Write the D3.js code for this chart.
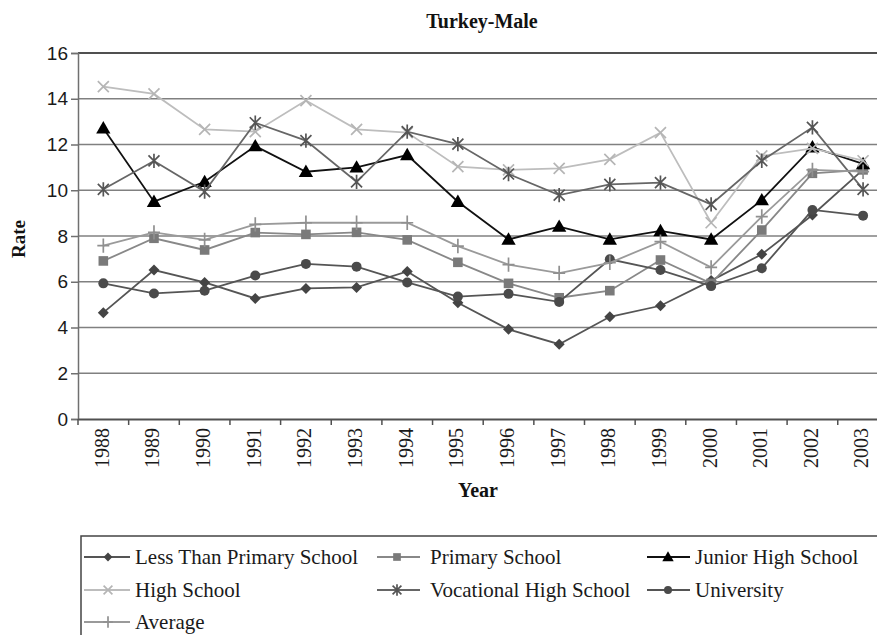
<!DOCTYPE html>
<html><head><meta charset="utf-8">
<script src="https://cdn.jsdelivr.net/npm/d3@7"></script>
<style>body{margin:0;background:#fff}svg{display:block}</style>
</head><body>
<svg id="c" width="877" height="635"></svg>
<script>
const years = ["1988","1989","1990","1991","1992","1993","1994","1995","1996","1997","1998","1999","2000","2001","2002","2003"];
const lessThanPrimary = [4.65,6.51,5.97,5.27,5.71,5.75,6.45,5.08,3.92,3.27,4.47,4.95,6.05,7.20,8.92,10.9];
const primarySchool   = [6.91,7.90,7.39,8.15,8.07,8.16,7.83,6.85,5.93,5.30,5.61,6.95,5.93,8.26,10.74,10.89];
const juniorHigh      = [12.71,9.50,10.37,11.93,10.81,11.00,11.54,9.50,7.85,8.41,7.85,8.22,7.85,9.57,11.88,11.15];
const highSchool      = [14.53,14.21,12.66,12.56,13.92,12.66,12.52,11.03,10.89,10.96,11.35,12.52,8.58,11.50,11.83,11.29];
const vocationalHigh  = [10.04,11.28,9.94,12.95,12.17,10.37,12.56,12.02,10.71,9.79,10.26,10.33,9.38,11.29,12.75,10.04];
const university      = [5.93,5.49,5.61,6.27,6.78,6.66,5.97,5.35,5.47,5.12,6.98,6.51,5.81,6.59,9.14,8.89];
const average         = [7.58,8.16,7.83,8.51,8.58,8.58,8.58,7.56,6.75,6.38,6.83,7.75,6.63,8.85,10.89,10.81];
const yTicks = [0,2,4,6,8,10,12,14,16];
const seriesNames = ["Less Than Primary School","Primary School","Junior High School","High School","Vocational High School","University","Average"];

const series = [
  {name:seriesNames[0], values:lessThanPrimary, color:"#555", mcolor:"#444", marker:"diamond"},
  {name:seriesNames[1], values:primarySchool,   color:"#888", mcolor:"#7a7a7a", marker:"square"},
  {name:seriesNames[2], values:juniorHigh,      color:"#111", mcolor:"#000", marker:"triangle"},
  {name:seriesNames[3], values:highSchool,      color:"#bdbdbd", mcolor:"#b5b5b5", marker:"x"},
  {name:seriesNames[4], values:vocationalHigh,  color:"#666", mcolor:"#555", marker:"star"},
  {name:seriesNames[5], values:university,      color:"#555", mcolor:"#4a4a4a", marker:"circle"},
  {name:seriesNames[6], values:average,         color:"#9a9a9a", mcolor:"#909090", marker:"plus"}
];

const svg = d3.select("#c");
const plotLeft = 78, plotTop = 53, plotBottom = 419;
const x = d3.scaleBand().domain(years).range([plotLeft, plotLeft + 16*50.65]);
const y = d3.scaleLinear().domain([0,16]).range([plotBottom, plotTop]);

// gridlines
svg.append("g").selectAll("line").data(yTicks.filter(d=>d>0)).join("line")
  .attr("x1", plotLeft).attr("x2", 877).attr("y1", d=>y(d)).attr("y2", d=>y(d))
  .attr("stroke", d=> d===16 ? "#505050" : "#808080").attr("stroke-width", d=> d===16 ? 2 : 1.5);

// y axis
const yAxis = svg.append("g").attr("transform",`translate(${plotLeft},0)`)
  .call(d3.axisLeft(y).tickValues(yTicks).tickSize(7).tickPadding(3));
yAxis.select(".domain").attr("stroke","#707070").attr("stroke-width",1.5);
yAxis.selectAll(".tick line").attr("stroke","#707070").attr("stroke-width",1.5);
yAxis.selectAll(".tick text").attr("font-family","'Liberation Sans', Arial, sans-serif")
  .attr("font-size","19px").attr("fill","#1a1a1a");

// x axis
const xAxis = svg.append("g").attr("transform",`translate(0,${plotBottom})`)
  .call(d3.axisBottom(x).tickSize(0).tickPadding(0));
xAxis.select(".domain").attr("stroke","#505050").attr("stroke-width",2);
xAxis.selectAll(".tick text").attr("font-family","'Liberation Serif', 'Times New Roman', serif")
  .attr("font-size","20px").attr("fill","#1a1a1a")
  .attr("transform","rotate(-90)").attr("text-anchor","end")
  .attr("x",-9).attr("y",-1).attr("dy","0.32em").attr("dx",0);
// tick marks at band boundaries
svg.append("g").selectAll("line").data(years).join("line")
  .attr("x1", d=>x(d)).attr("x2", d=>x(d)).attr("y1", plotBottom).attr("y2", plotBottom+6)
  .attr("stroke","#505050").attr("stroke-width",1.5);

const cx = d => x(d) + x.bandwidth()/2;

function markerPath(type, s) {
  switch(type) {
    case "diamond": return `M0,${-s}L${s},0L0,${s}L${-s},0Z`;
    case "square": return `M${-s},${-s}H${s}V${s}H${-s}Z`;
    case "triangle": return `M0,${-s*1.1}L${s*1.1},${s*0.8}L${-s*1.1},${s*0.8}Z`;
    case "x": return `M${-s},${-s}L${s},${s}M${-s},${s}L${s},${-s}`;
    case "star": return `M${-s},${-s}L${s},${s}M${-s},${s}L${s},${-s}M0,${-s*1.3}V${s*1.3}`;
    case "plus": return `M0,${-s*1.2}V${s*1.2}M${-s},0H${s}`;
  }
}
function drawMarker(g, type, color, scale) {
  const sizes = {diamond:5.5, square:4.8, triangle:6.5, x:5.5, star:5.5, plus:6, circle:5};
  const s = sizes[type]*scale;
  if (type === "circle") {
    g.append("circle").attr("r", s).attr("fill", color);
  } else if (type === "x" || type === "star" || type === "plus") {
    g.append("path").attr("d", markerPath(type, s)).attr("fill","none").attr("stroke", color).attr("stroke-width",1.7);
  } else {
    g.append("path").attr("d", markerPath(type, s)).attr("fill", color);
  }
}

const line = d3.line().x((d,i)=>cx(years[i])).y(d=>y(d));
series.forEach(sr => {
  const g = svg.append("g");
  g.append("path").datum(sr.values).attr("d", line).attr("fill","none")
    .attr("stroke", sr.color).attr("stroke-width",1.8);
  sr.values.forEach((v,i) => {
    const mg = g.append("g").attr("transform",`translate(${cx(years[i])},${y(v)})`);
    drawMarker(mg, sr.marker, sr.mcolor, 1);
  });
});

// titles
svg.append("text").attr("x",482).attr("y",28).attr("text-anchor","middle")
  .attr("font-family","'Liberation Serif', 'Times New Roman', serif").attr("font-weight","bold")
  .attr("font-size","20px").attr("fill","#111").text("Turkey-Male");
svg.append("text").attr("transform","translate(25,239) rotate(-90)").attr("text-anchor","middle")
  .attr("font-family","'Liberation Serif', 'Times New Roman', serif").attr("font-weight","bold")
  .attr("font-size","19px").attr("fill","#111").text("Rate");
svg.append("text").attr("x",478).attr("y",497).attr("text-anchor","middle")
  .attr("font-family","'Liberation Serif', 'Times New Roman', serif").attr("font-weight","bold")
  .attr("font-size","20px").attr("fill","#111").text("Year");

// legend
svg.append("rect").attr("x",81).attr("y",536).attr("width",820).attr("height",120)
  .attr("fill","none").attr("stroke","#444").attr("stroke-width",1.5);
const legPos = [
  {lx1:84, lx2:130, mx:108, tx:135, row:0},
  {lx1:377, lx2:420, mx:397, tx:430, row:0},
  {lx1:647, lx2:690, mx:668, tx:695, row:0},
  {lx1:84, lx2:130, mx:108, tx:135, row:1},
  {lx1:377, lx2:420, mx:397, tx:430, row:1},
  {lx1:647, lx2:690, mx:668, tx:695, row:1},
  {lx1:84, lx2:130, mx:108, tx:135, row:2}
];
const rowY = [557, 590, 622];
series.forEach((sr,i) => {
  const p = legPos[i], yy = rowY[p.row];
  const g = svg.append("g");
  g.append("line").attr("x1",p.lx1).attr("x2",p.lx2).attr("y1",yy).attr("y2",yy)
    .attr("stroke", sr.color).attr("stroke-width",1.8);
  const mg = g.append("g").attr("transform",`translate(${p.mx},${yy})`);
  drawMarker(mg, sr.marker, sr.mcolor, 0.8);
  g.append("text").attr("x",p.tx).attr("y",yy+7)
    .attr("font-family","'Liberation Serif', 'Times New Roman', serif")
    .attr("font-size","21px").attr("fill","#1a1a1a").text(sr.name);
});
</script>
</body></html>
